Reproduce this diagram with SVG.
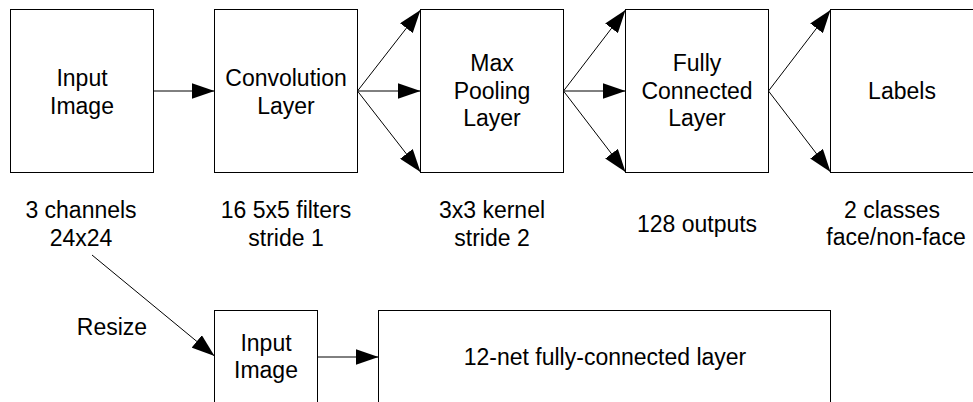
<svg xmlns="http://www.w3.org/2000/svg" width="973" height="402" viewBox="0 0 973 402">
<style>
.box{fill:#fff;stroke:#000;stroke-width:1}
.t{font-family:"Liberation Sans",Arial,sans-serif;font-size:23px;fill:#000;text-anchor:middle}
.c{stroke:#000;stroke-width:1;fill:none;marker-end:url(#ah)}
</style>
<defs>
<marker id="ah" markerUnits="userSpaceOnUse" viewBox="0 0 23 16" refX="23" refY="8" markerWidth="23" markerHeight="16" orient="auto">
<path d="M0,0 L23,8 L0,16 z" fill="#000"/>
</marker>
</defs>
<rect width="973" height="402" fill="#fff"/>
<g id="input">
<rect class="box" x="10.5" y="9.5" width="143" height="163"/>
<text class="t" x="82" y="86">Input</text>
<text class="t" x="82" y="113.5">Image</text>
</g>
<g id="conv">
<rect class="box" x="214.5" y="9.5" width="143" height="163"/>
<text class="t" x="286" y="86">Convolution</text>
<text class="t" x="286" y="113.5">Layer</text>
</g>
<g id="pool">
<rect class="box" x="420.5" y="9.5" width="143" height="163"/>
<text class="t" x="492" y="71">Max</text>
<text class="t" x="492" y="98.5">Pooling</text>
<text class="t" x="492" y="126">Layer</text>
</g>
<g id="fc">
<rect class="box" x="625.5" y="9.5" width="143" height="163"/>
<text class="t" x="697" y="71">Fully</text>
<text class="t" x="697" y="98.5">Connected</text>
<text class="t" x="697" y="126">Layer</text>
</g>
<g id="labels">
<rect class="box" x="830.5" y="9.5" width="160" height="163"/>
<text class="t" x="902" y="98.5">Labels</text>
</g>
<g id="input2">
<rect class="box" x="214.5" y="310.5" width="103" height="120"/>
<text class="t" x="266" y="350.5">Input</text>
<text class="t" x="266" y="378">Image</text>
</g>
<g id="fc12">
<rect class="box" x="378.5" y="310.5" width="452" height="120"/>
<text class="t" x="605" y="364.5">12-net fully-connected layer</text>
</g>
<g id="notes">
<text class="t" x="81" y="218">3 channels</text>
<text class="t" x="81" y="245.5">24x24</text>
<text class="t" x="286" y="218">16 5x5 filters</text>
<text class="t" x="286" y="245.5">stride 1</text>
<text class="t" x="492" y="218">3x3 kernel</text>
<text class="t" x="492" y="245.5">stride 2</text>
<text class="t" x="697" y="232">128 outputs</text>
<text class="t" x="892" y="217.5">2 classes</text>
<text class="t" x="896" y="245">face/non-face</text>
<text class="t" x="112" y="335">Resize</text>
</g>
<g id="connectors">
<line class="c" x1="153.5" y1="91" x2="214.5" y2="91"/>
<line class="c" x1="357.5" y1="91" x2="420.5" y2="10"/>
<line class="c" x1="357.5" y1="91" x2="420.5" y2="91"/>
<line class="c" x1="357.5" y1="91" x2="420.5" y2="172"/>
<line class="c" x1="563.5" y1="91" x2="625.5" y2="10"/>
<line class="c" x1="563.5" y1="91" x2="625.5" y2="91"/>
<line class="c" x1="563.5" y1="91" x2="625.5" y2="172"/>
<line class="c" x1="768.5" y1="91" x2="830.5" y2="10"/>
<line class="c" x1="768.5" y1="91" x2="830.5" y2="172"/>
<line class="c" x1="92" y1="255" x2="214.5" y2="356"/>
<line class="c" x1="317.5" y1="357" x2="378.5" y2="357"/>
</g>
</svg>
